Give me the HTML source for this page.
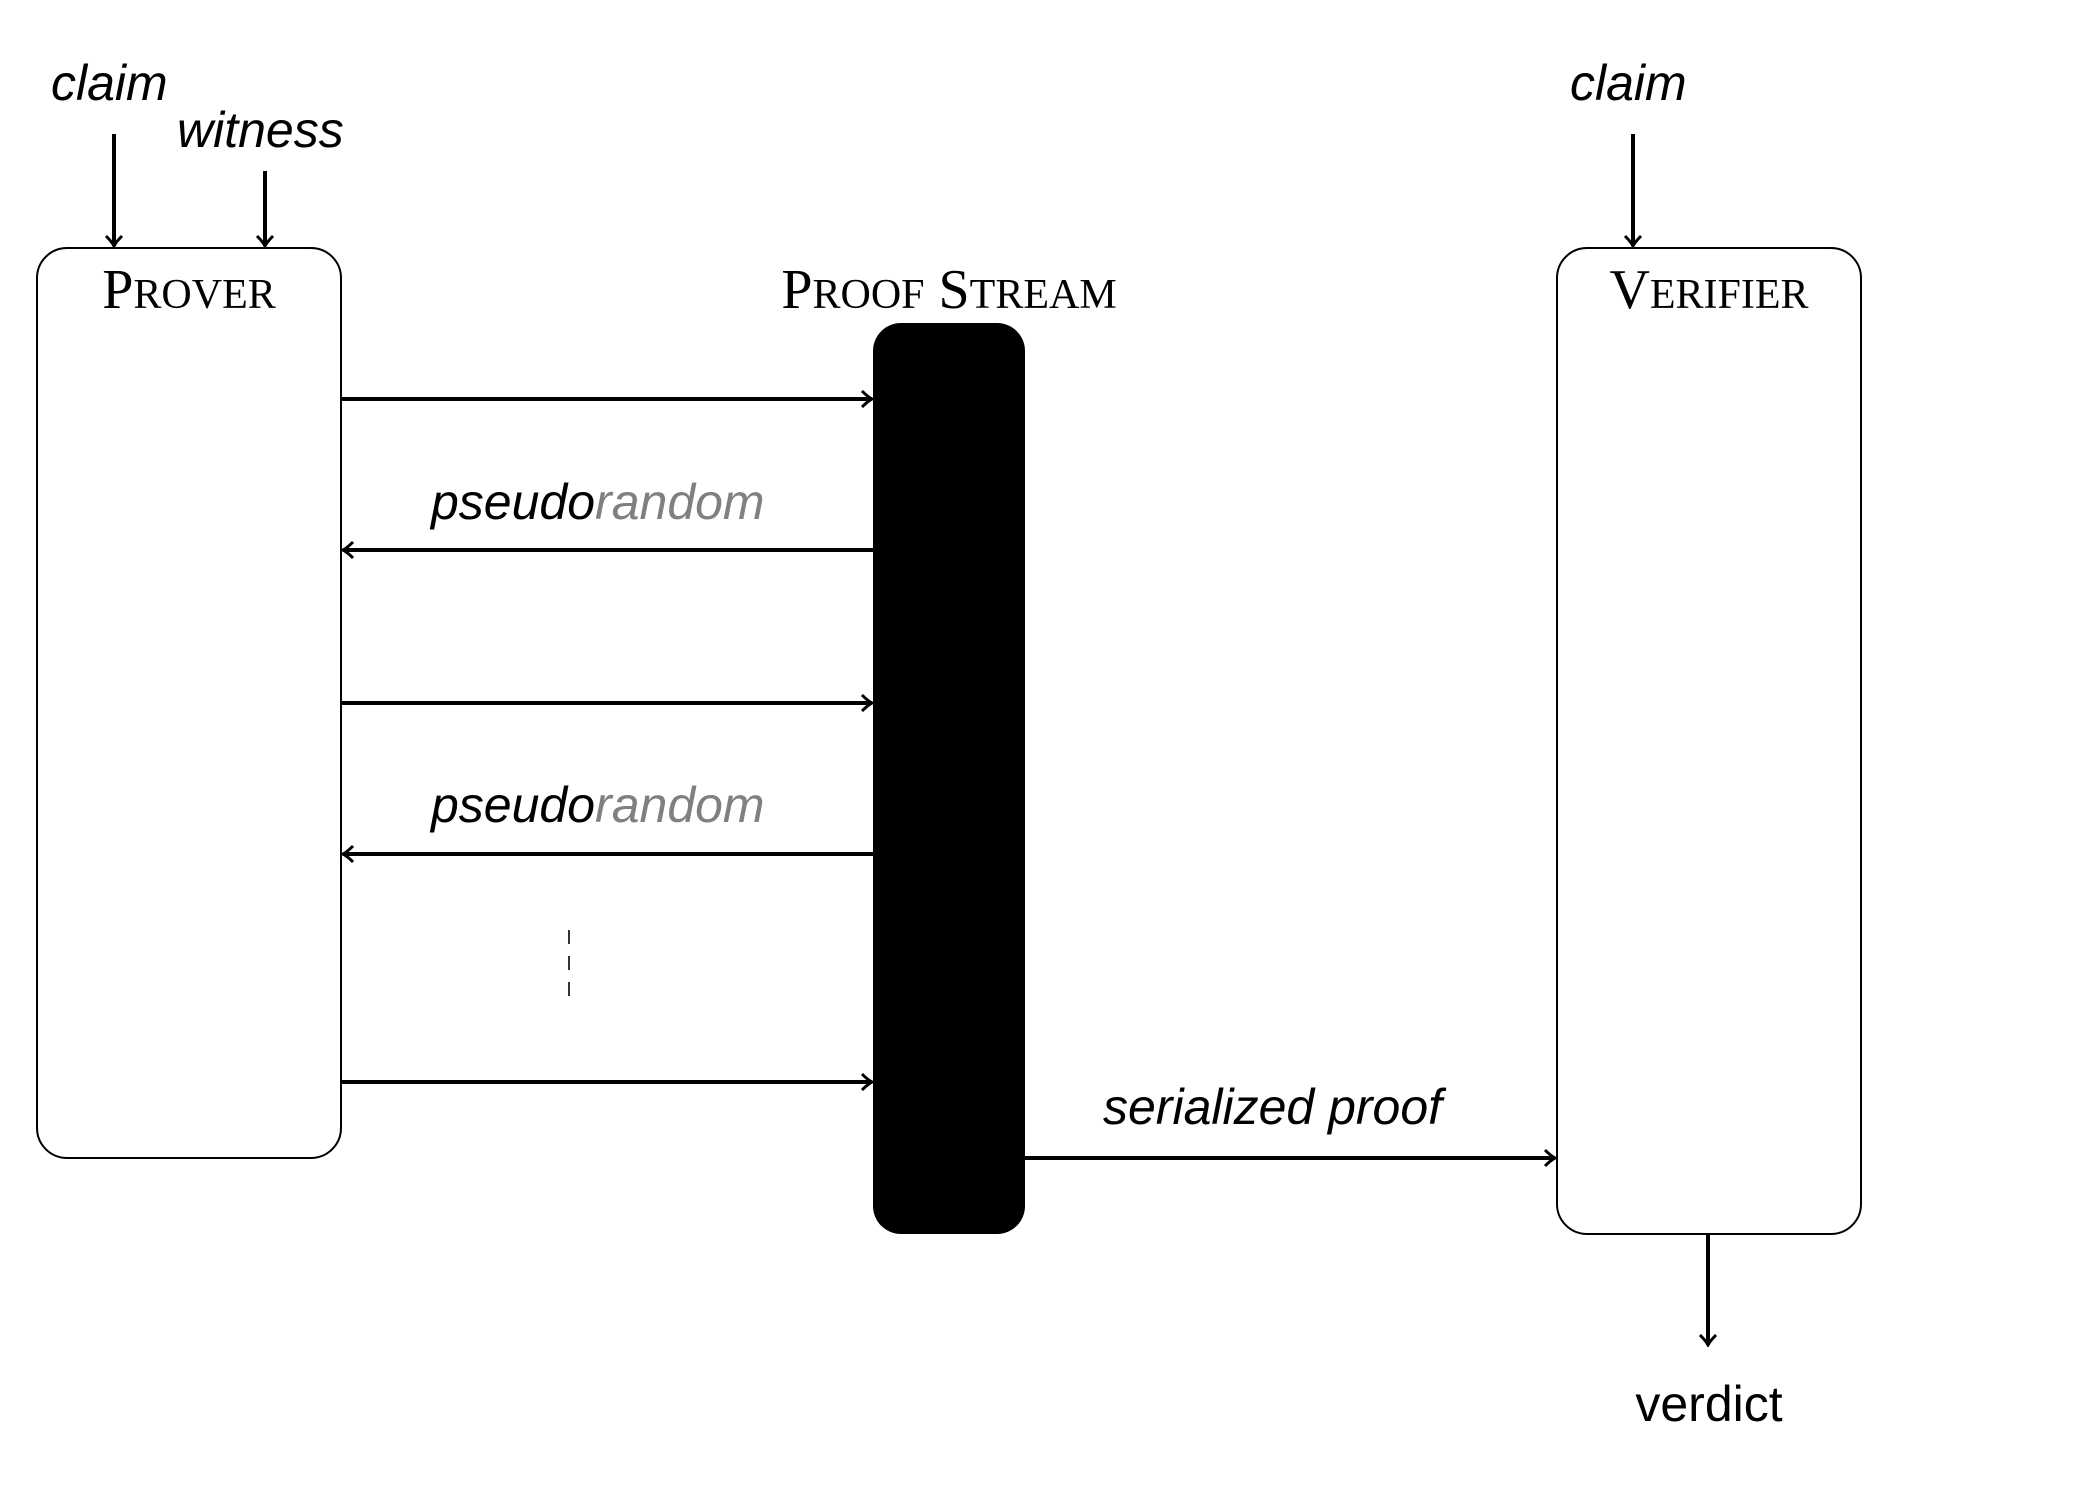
<!DOCTYPE html>
<html><head><meta charset="utf-8"><style>body{margin:0;background:#fff}svg{display:block}</style></head><body>
<svg width="2088" height="1506" xmlns="http://www.w3.org/2000/svg">
<defs><marker id="a" markerWidth="14" markerHeight="20" refX="12" refY="10" orient="auto" markerUnits="userSpaceOnUse"><path d="M2,2 Q8,8 12,10 Q8,12 2,18" fill="none" stroke="#000" stroke-width="3"/></marker></defs>
<g font-family="Liberation Sans, sans-serif" font-size="50" font-style="italic">
<text x="51" y="100">claim</text>
<text x="177" y="147">witness</text>
<text x="1570" y="100">claim</text>
<text x="431" y="519">pseudo<tspan fill="#808080">random</tspan></text>
<text x="431" y="822">pseudo<tspan fill="#808080">random</tspan></text>
<text x="1103" y="1124">serialized proof</text>
<text x="1709" y="1421" font-style="normal" text-anchor="middle">verdict</text>
</g>
<g font-family="Liberation Serif, serif" font-size="56" text-anchor="middle">
<text x="189" y="308">P<tspan font-size="42">ROVER</tspan></text>
<text x="949" y="308">P<tspan font-size="42">ROOF</tspan> S<tspan font-size="42">TREAM</tspan></text>
<text x="1709" y="308">V<tspan font-size="42">ERIFIER</tspan></text>
</g>
<rect x="37" y="248" width="304" height="910" rx="30" fill="none" stroke="#000" stroke-width="2"/>
<rect x="1557" y="248" width="304" height="986" rx="30" fill="none" stroke="#000" stroke-width="2"/>
<rect x="873" y="323" width="152" height="911" rx="28" fill="#000"/>
<g stroke="#000" stroke-width="4" marker-end="url(#a)">
<line x1="114" y1="134" x2="114" y2="246"/>
<line x1="265" y1="171" x2="265" y2="246"/>
<line x1="1633" y1="134" x2="1633" y2="246"/>
<line x1="341" y1="399" x2="872" y2="399"/>
<line x1="873" y1="550" x2="343" y2="550"/>
<line x1="341" y1="703" x2="872" y2="703"/>
<line x1="873" y1="854" x2="343" y2="854"/>
<line x1="341" y1="1082" x2="872" y2="1082"/>
<line x1="1025" y1="1158" x2="1555" y2="1158"/>
<line x1="1708" y1="1234" x2="1708" y2="1345"/>
</g>
<line x1="569" y1="930" x2="569" y2="1007" stroke="#333" stroke-width="2" stroke-dasharray="14,12"/>
</svg>
</body></html>
